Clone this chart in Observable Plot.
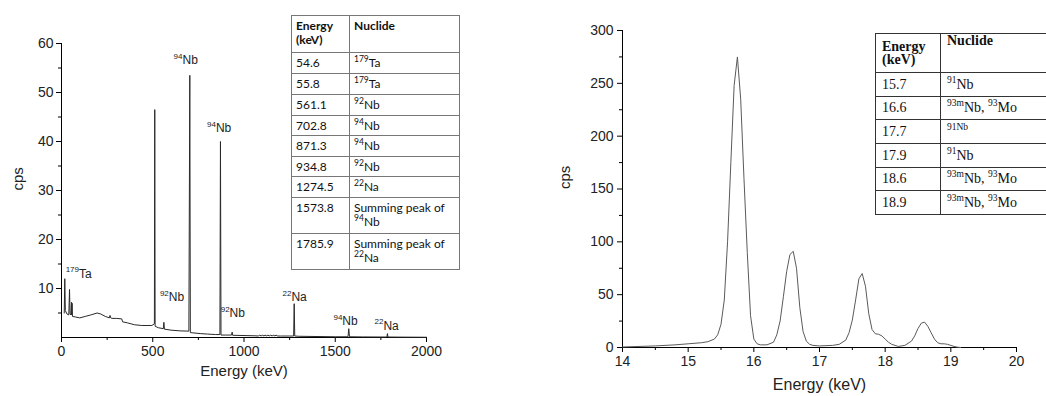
<!DOCTYPE html>
<html><head><meta charset="utf-8">
<script src="https://cdn.jsdelivr.net/npm/d3@7"></script>
<script src="https://cdn.jsdelivr.net/npm/@observablehq/plot@0.6"></script>
<style>
html,body{margin:0;padding:0;background:#fff;overflow:hidden;}
#wrap{position:relative;width:1046px;height:396px;overflow:hidden;background:#fff;}
.panel{position:absolute;top:0;}
table{position:absolute;border-collapse:collapse;table-layout:fixed;}
table.lt{left:291px;top:15px;width:169px;font-family:Lato,"Open Sans",sans-serif;font-size:12px;color:#111;background:#fff;}
table.lt td{border:1px solid #777;padding:3px 4px 0 4px;vertical-align:top;line-height:14px;box-sizing:border-box;}
table.lt sup{font-size:8.5px;line-height:0;}
table.rt{left:875px;top:33px;width:176px;font-family:"Liberation Serif","Times New Roman",serif;font-size:14px;color:#111;background:#fff;}
table.rt td{border:1px solid #333;padding:0 6px;vertical-align:middle;line-height:13.5px;box-sizing:border-box;}
table.rt sup{font-size:9.5px;line-height:0;}
</style>
</head><body>
<div id="wrap">
  <div id="left" class="panel" style="left:0;"></div>
  <div id="right" class="panel" style="left:530px;"></div>
</div>
<script>
// ---------- Left panel: gamma spectrum ----------
const leftE   = [15, 18, 21, 30, 40, 44, 47, 52, 55, 56, 58, 60, 75, 100, 130, 160, 195, 215, 240, 262, 266, 270, 275, 300, 330, 335, 360, 400, 440, 495, 509, 511, 513, 530, 558, 561, 564, 600, 650, 698, 703, 706, 720, 760, 800, 845, 868, 871, 874, 900, 932, 935, 938, 1000, 1060, 1080, 1085, 1095, 1100, 1110, 1115, 1125, 1130, 1140, 1145, 1155, 1160, 1170, 1175, 1185, 1200, 1250, 1272, 1275, 1278, 1300, 1400, 1500, 1570, 1574, 1578, 1650, 1750, 1783, 1786, 1789, 1850, 2000];
const leftCps = [5.0, 12.0, 5.5, 4.8, 4.6, 9.8, 4.8, 4.6, 7.2, 4.6, 7.0, 4.3, 4.2, 4.0, 4.3, 4.6, 5.0, 4.8, 4.3, 4.0, 4.5, 4.0, 3.9, 3.9, 3.8, 3.2, 3.0, 2.6, 2.45, 2.45, 2.8, 46.5, 2.3, 2.0, 1.8, 3.1, 1.7, 1.5, 1.35, 1.3, 53.5, 1.0, 0.95, 0.8, 0.7, 0.6, 0.6, 40.0, 0.5, 0.5, 0.5, 1.1, 0.45, 0.4, 0.35, 0.3, 0.5, 0.3, 0.5, 0.3, 0.5, 0.3, 0.5, 0.3, 0.5, 0.3, 0.5, 0.3, 0.5, 0.3, 0.3, 0.3, 0.3, 6.9, 0.3, 0.25, 0.2, 0.15, 0.15, 1.8, 0.15, 0.12, 0.1, 0.1, 0.8, 0.1, 0.08, 0.05];

// peak labels: mass number (superscript) + element, anchored at the junction point
const leftLabelMass = ["179", "92", "94", "94", "92", "22", "94", "22"];
const leftLabelElem = ["Ta", "Nb", "Nb", "Nb", "Nb", "Na", "Nb", "Na"];
const leftLabelE    = [96, 588, 663, 846, 921, 1260, 1539, 1764];
const leftLabelCps  = [13, 8.2, 56.5, 42.7, 4.9, 8.2, 3.3, 2.4];

const leftXTicks = [0, 500, 1000, 1500, 2000];
const leftXMinor = [250, 750, 1250, 1750];
const leftYTicks = [10, 20, 30, 40, 50, 60];
const leftYMinor = [5, 15, 25, 35, 45, 55];

const leftTableEnergy  = ["54.6", "55.8", "561.1", "702.8", "871.3", "934.8", "1274.5", "1573.8", "1785.9"];
const leftTableNuclide = ["<sup>179</sup>Ta", "<sup>179</sup>Ta", "<sup>92</sup>Nb", "<sup>94</sup>Nb", "<sup>94</sup>Nb", "<sup>92</sup>Nb", "<sup>22</sup>Na", "Summing peak of<br><sup>94</sup>Nb", "Summing peak of<br><sup>22</sup>Na"];

// ---------- Right panel: X-ray spectrum ----------
const rightE   = [14.0, 14.5, 14.8, 15.0, 15.2, 15.3, 15.4, 15.45, 15.5, 15.55, 15.6, 15.65, 15.7, 15.75, 15.8, 15.85, 15.9, 15.95, 16.0, 16.05, 16.1, 16.2, 16.3, 16.35, 16.4, 16.45, 16.5, 16.55, 16.6, 16.65, 16.7, 16.75, 16.8, 16.85, 16.9, 17.0, 17.2, 17.3, 17.4, 17.45, 17.5, 17.55, 17.6, 17.65, 17.7, 17.75, 17.8, 17.85, 17.9, 17.95, 18.0, 18.05, 18.1, 18.2, 18.3, 18.4, 18.45, 18.5, 18.55, 18.6, 18.65, 18.7, 18.75, 18.8, 18.85, 18.9, 18.95, 19.0, 19.05, 19.1, 19.15];
const rightCps = [0.5, 1.5, 2.5, 3.5, 4.5, 5.5, 8, 12, 22, 45, 100, 175, 248, 275, 235, 160, 90, 30, 8, 3.5, 2.5, 2.5, 5, 12, 25, 48, 72, 88, 91, 75, 38, 15, 6, 3, 2, 1.5, 2, 3, 7, 14, 26, 45, 65, 70, 58, 32, 17, 13, 12.5, 11, 8, 5, 3, 1, 2, 6, 11, 18, 23, 24, 20, 14, 8, 4.5, 3.5, 3.5, 3, 2, 1, 0.3, 0];

const rightXTicks = [14, 15, 16, 17, 18, 19, 20];
const rightXMinor = [14.5, 15.5, 16.5, 17.5, 18.5, 19.5];
const rightYTicks = [0, 50, 100, 150, 200, 250, 300];
const rightYMinor = [25, 75, 125, 175, 225, 275];

const rightTableEnergy  = ["15.7", "16.6", "17.7", "17.9", "18.6", "18.9"];
const rightTableNuclide = ["<sup>91</sup>Nb", "<sup>93m</sup>Nb, <sup>93</sup>Mo", "<sup>91Nb</sup>", "<sup>91</sup>Nb", "<sup>93m</sup>Nb, <sup>93</sup>Mo", "<sup>93m</sup>Nb, <sup>93</sup>Mo"];

// ---------- build ----------
const leftData = leftE.map((e, i) => ({e, c: leftCps[i]}));
const leftLabels = leftLabelElem.map((t, i) => ({t, m: leftLabelMass[i], e: leftLabelE[i], c: leftLabelCps[i]}));
const rightData = rightE.map((e, i) => ({e, c: rightCps[i]}));

const font = "'Liberation Sans', Arial, sans-serif";
const plain = d => String(d);

const leftPlot = Plot.plot({
  width: 470, height: 396,
  marginLeft: 61, marginRight: 44, marginTop: 43, marginBottom: 59,
  x: {domain: [0, 2000]},
  y: {domain: [0, 60]},
  style: {fontFamily: font, color: "#222", background: "transparent", overflow: "visible"},
  marks: [
    Plot.axisX({ticks: leftXTicks, tickSize: 5, tickPadding: 4, fontSize: 14, tickFormat: plain, label: null, stroke: "#000"}),
    Plot.axisX({ticks: leftXMinor, tickSize: 3, tickFormat: () => "", label: null, stroke: "#000"}),
    Plot.axisY({ticks: leftYTicks, tickSize: 5, tickPadding: 3, fontSize: 14, tickFormat: plain, label: null, stroke: "#000"}),
    Plot.axisY({ticks: leftYMinor, tickSize: 3, tickFormat: () => "", label: null, stroke: "#000"}),
    Plot.ruleX([0], {stroke: "#000"}),
    Plot.ruleY([0], {stroke: "#000"}),
    Plot.line(leftData, {x: "e", y: "c", stroke: "#2a2a2a", strokeWidth: 1}),
    Plot.text(leftLabels, {x: "e", y: "c", text: "t", textAnchor: "start", fontSize: 12, fill: "#222"}),
    Plot.text(leftLabels, {x: "e", y: "c", text: "m", textAnchor: "end", dy: -4, fontSize: 8, fill: "#222"}),
    Plot.text(["cps"], {frameAnchor: "left", dx: -43, rotate: -90, fontSize: 15, fill: "#222"}),
    Plot.text(["Energy (keV)"], {frameAnchor: "bottom", dy: 38, fontSize: 15, fill: "#222"})
  ]
});
document.getElementById("left").appendChild(leftPlot);

const rightPlot = Plot.plot({
  width: 516, height: 396,
  marginLeft: 92, marginRight: 30, marginTop: 30, marginBottom: 49,
  x: {domain: [14, 20]},
  y: {domain: [0, 300]},
  style: {fontFamily: font, color: "#222", background: "transparent", overflow: "visible"},
  marks: [
    Plot.axisX({ticks: rightXTicks, tickSize: 5, tickPadding: 4, fontSize: 14, tickFormat: plain, label: null, stroke: "#000"}),
    Plot.axisX({ticks: rightXMinor, tickSize: 3, tickFormat: () => "", label: null, stroke: "#000"}),
    Plot.axisY({ticks: rightYTicks, tickSize: 5, tickPadding: 4, fontSize: 14, tickFormat: plain, label: null, stroke: "#000"}),
    Plot.axisY({ticks: rightYMinor, tickSize: 3, tickFormat: () => "", label: null, stroke: "#000"}),
    Plot.ruleX([14], {stroke: "#000"}),
    Plot.ruleY([0], {stroke: "#000"}),
    Plot.line(rightData, {x: "e", y: "c", stroke: "#5a5a5a", strokeWidth: 1}),
    Plot.text(["cps"], {frameAnchor: "left", dx: -57, rotate: -90, fontSize: 15, fill: "#222"}),
    Plot.text(["Energy (keV)"], {frameAnchor: "bottom", dy: 42, fontSize: 16, fill: "#222"})
  ]
});
document.getElementById("right").appendChild(rightPlot);

// ---------- tables ----------
function buildTable(cls, energies, nuclides, heights, headH, col1) {
  const t = document.createElement("table");
  t.className = cls;
  const cg = document.createElement("colgroup");
  cg.innerHTML = `<col style="width:${col1}px"><col>`;
  t.appendChild(cg);
  const head = document.createElement("tr");
  head.style.height = headH + "px";
  head.innerHTML = `<td style="font-weight:bold">Energy<br>(keV)</td><td style="font-weight:bold;vertical-align:top">Nuclide</td>`;
  t.appendChild(head);
  energies.forEach((e, i) => {
    const tr = document.createElement("tr");
    tr.style.height = heights[i] + "px";
    tr.innerHTML = `<td>${e}</td><td>${nuclides[i]}</td>`;
    t.appendChild(tr);
  });
  document.getElementById("wrap").appendChild(t);
}
buildTable("lt", leftTableEnergy, leftTableNuclide, [21, 21, 21, 20, 21, 20, 21, 36, 36], 37, 58);
buildTable("rt", rightTableEnergy, rightTableNuclide, [23.5, 23.5, 24, 23.5, 23.5, 24], 39, 65);
</script>
</body></html>
